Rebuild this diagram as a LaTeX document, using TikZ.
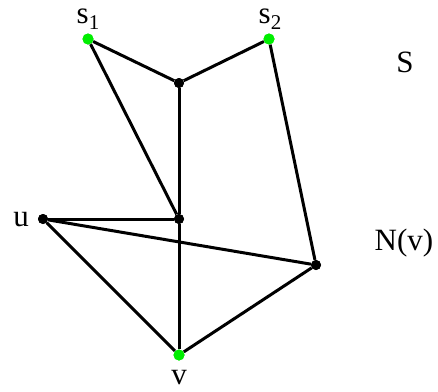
\documentclass[tikz,border=0pt]{standalone}
\usepackage{fontspec}
\setmainfont{Liberation Serif}
\usepackage{xcolor}
\definecolor{dotgreen}{RGB}{0,238,0}
\newcommand{\subidx}[1]{\raisebox{-0.2em}{\fontsize{21}{25}\selectfont #1}}
\begin{document}
\begin{tikzpicture}[x=1pt,y=-1pt,
  edge/.style={line width=3pt},
  vblack/.style={circle,fill=black,inner sep=0pt,minimum size=10pt},
  vgreen/.style={circle,fill=dotgreen,inner sep=0pt,minimum size=11pt},
  lbl/.style={font=\fontsize{31}{37}\selectfont,inner sep=0pt,anchor=base}]
\useasboundingbox (0,0) rectangle (438,391);
\node[vgreen] (s1) at (88,39) {};
\node[vgreen] (s2) at (269,39) {};
\node[vblack] (t) at (179,83) {};
\node[vblack] (m) at (179,219) {};
\node[vblack] (u) at (43,219) {};
\node[vblack] (r) at (316,265) {};
\node[vgreen] (v) at (179,355) {};
\draw[edge] (s1) -- (t) -- (s2);
\draw[edge] (s1) -- (m);
\draw[edge] (t) -- (m);
\draw[edge] (s2) -- (r);
\draw[edge] (u) -- (m);
\draw[edge] (u) -- (r);
\draw[edge] (u) -- (v);
\draw[edge] (m) -- (v);
\draw[edge] (r) -- (v);
\node[vgreen] at (s1) {};
\node[vgreen] at (s2) {};
\node[vgreen] at (v) {};
\node[vblack] at (t) {};
\node[vblack] at (m) {};
\node[vblack] at (u) {};
\node[vblack] at (r) {};
\node[lbl] (ls1) at (88,23) {s\subidx{1}};
\node[lbl] (ls2) at (270,23) {s\subidx{2}};
\node[lbl] (lS) at (405,72) {S};
\node[lbl] (lu) at (21,226) {u};
\node[lbl] (lv) at (179,384) {v};
\node[lbl] (lN) at (404,250) {N(v)};
\end{tikzpicture}
\end{document}
